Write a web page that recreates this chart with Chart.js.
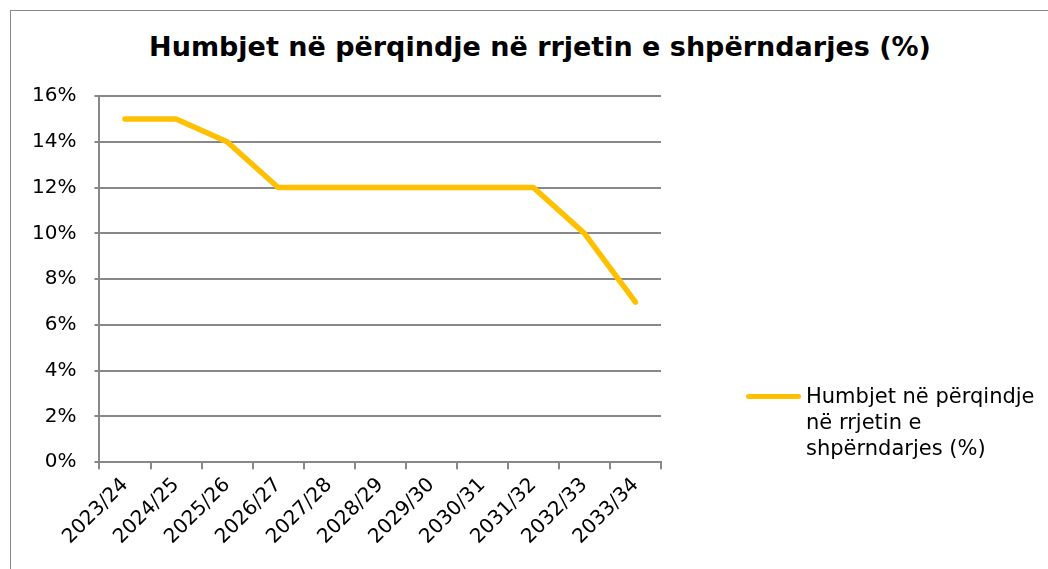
<!DOCTYPE html>
<html>
<head>
<meta charset="utf-8">
<script src="https://cdn.jsdelivr.net/npm/chart.js@4.4.0/dist/chart.umd.min.js"></script>
<style>
  html, body { margin: 0; padding: 0; background: #fff; overflow: hidden; }
  #frame { position: absolute; left: 10px; top: 10px; width: 1040px; height: 570px; border: 1px solid #888; box-sizing: border-box; }
  #wrap { position: absolute; left: 10px; top: 0; width: 1040px; height: 569px; }
  #title { position: absolute; left: 0; width: 1080px; top: 31px; text-align: center; font-family: "DejaVu Sans", Verdana, sans-serif; font-weight: bold; font-size: 27px; color: #000; }
  #legend { position: absolute; left: 746px; top: 383px; font-family: "DejaVu Sans", Verdana, sans-serif; font-size: 21px; line-height: 26px; color: #000; }
  #legend .swatch { position: absolute; left: 0; top: 11px; width: 55px; height: 5px; border-radius: 3px; background: #FFC000; }
  #legend .txt { margin-left: 60px; }
</style>
</head>
<body>
<div id="frame"></div>
<div id="title"></div>
<div id="wrap"><canvas id="lossChart"></canvas></div>
<div id="legend"><div class="swatch"></div><div class="txt">Humbjet në përqindje<br>në rrjetin e<br>shpërndarjes (%)</div></div>
<script>
// categories and values (percent)
const years = ['2023/24','2024/25','2025/26','2026/27','2027/28','2028/29','2029/30','2030/31','2031/32','2032/33','2033/34'];
const losses = [15, 15, 14, 12, 12, 12, 12, 12, 12, 10, 7];
const seriesName = 'Humbjet në përqindje në rrjetin e shpërndarjes (%)';

document.getElementById('title').textContent = seriesName;

const canvas = document.getElementById('lossChart');
canvas.width = 1040;
canvas.height = 569;
const ctx = canvas.getContext('2d');

const lossChart = new Chart(ctx, {
    type: 'line',
    data: {
        labels: years,
        datasets: [{
            label: seriesName,
            data: losses,
            borderColor: '#FFC000',
            borderWidth: 5.5,
            borderCapStyle: 'round',
            borderJoinStyle: 'round',
            pointRadius: 0,
            fill: false,
            tension: 0
        }]
    },
    options: {
        responsive: false,
        animation: false,
        layout: { padding: { left: 4, right: 389, top: 96, bottom: 16 } },
        plugins: {
            legend: { display: false },
            tooltip: { enabled: false },
            title: { display: false }
        },
        scales: {
            x: {
                offset: true,
                grid: { offset: true, drawOnChartArea: false, drawTicks: true, tickLength: 7, color: '#888', lineWidth: 2 },
                border: { color: '#888', width: 2 },
                ticks: { color: '#000', font: { family: 'DejaVu Sans', size: 20 }, minRotation: 45, maxRotation: 45, padding: 4 }
            },
            y: {
                min: 0,
                max: 16,
                ticks: { stepSize: 2, color: '#000', font: { family: 'DejaVu Sans', size: 20 }, padding: 18, callback: v => v + '%' },
                grid: { color: '#888', lineWidth: 2, tickLength: 5 },
                border: { color: '#888', width: 2 }
            }
        }
    }
});
</script>
</body>
</html>
